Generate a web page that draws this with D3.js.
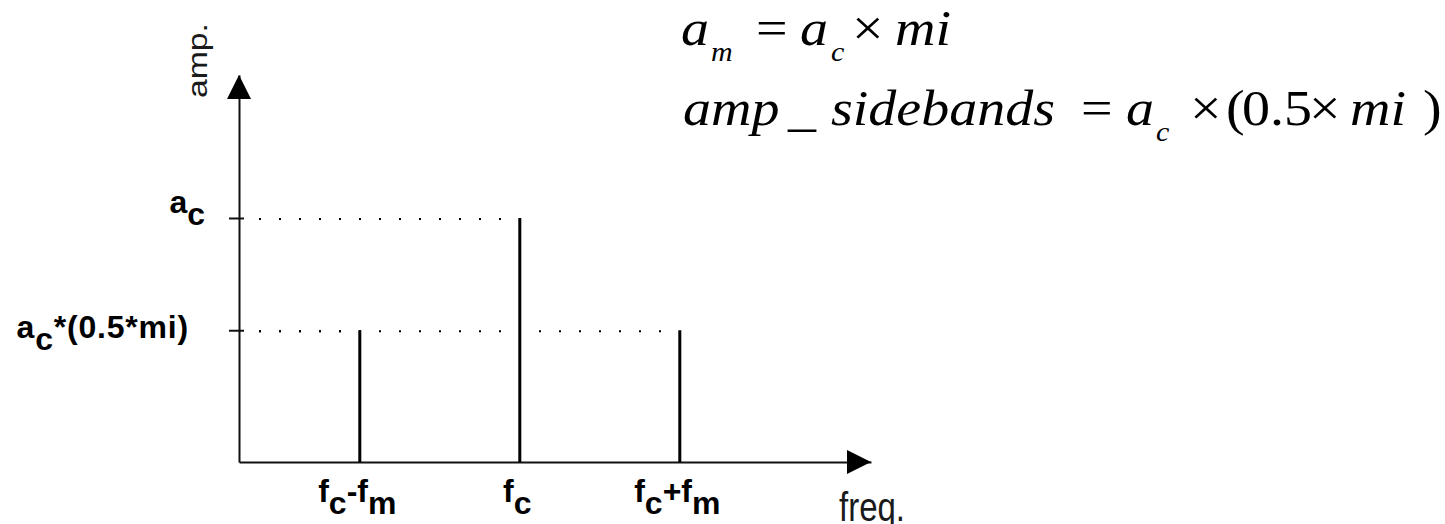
<!DOCTYPE html>
<html>
<head>
<meta charset="UTF-8">
<style>
body { margin: 0; background: #fff; }
.axis path, .axis line { stroke: #111; stroke-width: 2px; }
.stem { stroke: #000; stroke-width: 3px; }
.guide { stroke: #000; stroke-width: 2px; stroke-dasharray: 2,18; }
.lbl { font-family: "Liberation Sans", Arial, sans-serif; font-weight: bold; font-size: 32px; fill: #000; }
.name { font-family: "Liberation Sans", Arial, sans-serif; font-size: 33px; fill: #1a1a1a; }
.eq { font-family: "Liberation Serif", "Times New Roman", serif; fill: #000; }
</style>
</head>
<body>
<svg width="1445" height="524"></svg>
<script src="https://cdnjs.cloudflare.com/ajax/libs/d3/7.8.5/d3.min.js"></script>
<script>
// AM spectrum: frequency relative to the carrier (in units of f_m), amplitude relative to a_c
var freqs = [-1, 0, 1];
var freqLabels = ["f_c-f_m", "f_c", "f_c+f_m"];
var amps = [0.54, 1, 0.54];
var ampTicks = [0.54, 1];
var ampLabels = ["a_c*(0.5*mi)", "a_c"];

// equations at the top right: [text, style]
var eq1 = [["a", "i"], ["m", "sub"], ["=", "r"], ["a", "i"], ["c", "sub"], ["×", "r"], ["mi", "i"]];
var eq2 = [["amp", "i"], ["_", "r"], ["sidebands", "i"], ["=", "r"], ["a", "i"], ["c", "sub"],
           ["×", "r"], ["(", "r"], ["0.5", "r"], ["×", "r"], ["mi", "i"], [")", "r"]];

// layout only
var eq1X = [681, 711, 756, 800, 831, 852, 895];
var eq2X = [683, 788, 831, 1081, 1126, 1156, 1190, 1226, 1242, 1309, 1350, 1423];
var eqStretch = 0.92, nameStretch = 1.25;
var ampLabelPos = { "a_c": [-34, -5], "a_c*(0.5*mi)": [-50, 7] };

var svg = d3.select("svg");

var x = d3.scaleLinear().domain([-1.755, 2.195]).range([239, 871]);
var y = d3.scaleLinear().domain([0, 1.586]).range([462, 75]);

// text with single-char subscripts written as _x
function addLabel(t, str) {
  var parts = str.split(/_(.)/), cur = 0;
  parts.forEach(function(p, i) {
    if (!p) return;
    var target = i % 2 ? 12 : 0;
    t.append("tspan").attr("dy", target - cur).text(p);
    cur = target;
  });
}

// dotted guides from the amplitude axis to each line
svg.selectAll(".guide")
  .data(freqs)
  .enter().append("line")
    .attr("class", "guide")
    .attr("x1", x.range()[0] + 20)
    .attr("x2", function(d) { return x(d) - 6; })
    .attr("y1", function(d, i) { return y(amps[i]) + 1; })
    .attr("y2", function(d, i) { return y(amps[i]) + 1; });

// axes
var xAxis = svg.append("g")
    .attr("class", "axis")
    .attr("transform", "translate(0," + y(0) + ")")
    .call(d3.axisBottom(x).tickValues(freqs).tickSize(0).tickSizeOuter(0).tickFormat(""));

xAxis.selectAll(".tick").each(function(d, i) {
  var t = d3.select(this).append("text")
      .attr("class", "lbl")
      .attr("text-anchor", "middle")
      .attr("x", -3)
      .attr("y", 40)
      .attr("fill", "#000");
  addLabel(t, freqLabels[i]);
});

var yAxis = svg.append("g")
    .attr("class", "axis")
    .attr("transform", "translate(" + x.range()[0] + ",0)")
    .call(d3.axisLeft(y).tickValues(ampTicks).tickSizeInner(10).tickSizeOuter(0).tickFormat(""));

yAxis.selectAll(".tick line").attr("x1", 5);
yAxis.selectAll(".tick").each(function(d, i) {
  var off = ampLabelPos[ampLabels[i]];
  var t = d3.select(this).append("text")
      .attr("class", "lbl")
      .attr("text-anchor", "end")
      .attr("x", off[0])
      .attr("y", off[1])
      .attr("letter-spacing", i === 0 ? 0.8 : 0)
      .attr("fill", "#000");
  addLabel(t, ampLabels[i]);
});

// arrow heads
var x0 = x.range()[0], x1 = x.range()[1], y0 = y.range()[0], y1 = y.range()[1];
svg.append("path")
    .attr("d", "M" + x0 + "," + y1 + "L" + (x0 + 12) + "," + (y1 + 24) + "L" + (x0 - 12) + "," + (y1 + 24) + "Z")
    .attr("fill", "#000");
svg.append("path")
    .attr("d", "M" + x1 + "," + y0 + "L" + (x1 - 24) + "," + (y0 - 12) + "L" + (x1 - 24) + "," + (y0 + 12) + "Z")
    .attr("fill", "#000");

// spectral lines
svg.selectAll(".stem")
  .data(freqs)
  .enter().append("line")
    .attr("class", "stem")
    .attr("x1", function(d) { return x(d); })
    .attr("x2", function(d) { return x(d); })
    .attr("y1", y(0))
    .attr("y2", function(d, i) { return y(amps[i]); });

// axis names
svg.append("text")
    .attr("class", "name")
    .attr("transform", "translate(207,98) scale(1," + nameStretch + ") rotate(-90)")
    .style("font-size", "27px")
    .text("amp.");

svg.append("text")
    .attr("class", "name")
    .attr("transform", "translate(839,521) scale(1," + nameStretch + ")")
    .text("freq.");

// equations
function drawEq(tokens, xs, base) {
  tokens.forEach(function(tk, i) {
    var sub = tk[1] === "sub";
    svg.append("text")
        .attr("class", "eq")
        .attr("transform", "translate(" + xs[i] + "," + base + ") scale(1," + eqStretch + ")")
        .attr("y", sub ? 16 / eqStretch : 0)
        .style("font-size", sub ? "30px" : "56px")
        .style("font-style", tk[1] === "r" ? "normal" : "italic")
        .text(tk[0]);
  });
}
drawEq(eq1, eq1X, 45);
drawEq(eq2, eq2X, 125);
</script>
</body>
</html>
